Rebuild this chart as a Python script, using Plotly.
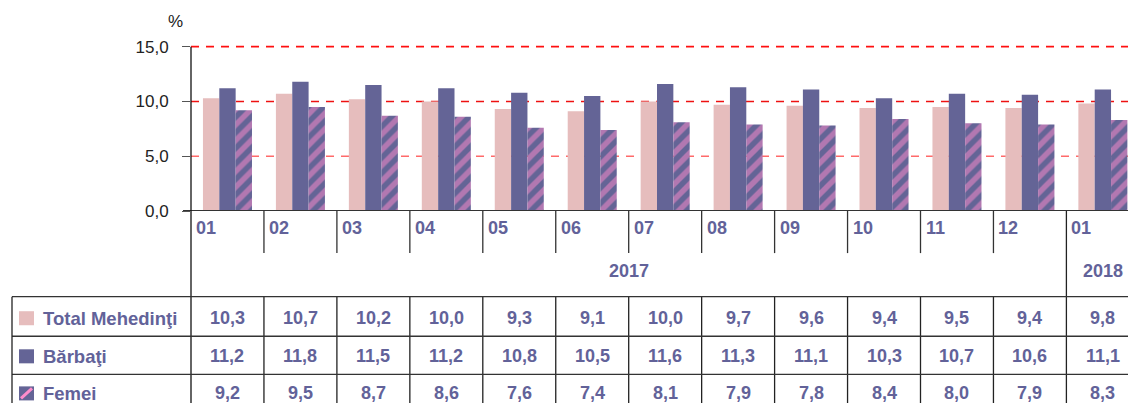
import plotly.graph_objects as go

months = ["01", "02", "03", "04", "05", "06", "07", "08", "09", "10", "11", "12", "01"]
years = ["2017", "2018"]
year_spans = [(0, 11), (12, 12)]
series_names = ["Total Mehedinţi", "Bărbaţi", "Femei"]
total = [10.3, 10.7, 10.2, 10.0, 9.3, 9.1, 10.0, 9.7, 9.6, 9.4, 9.5, 9.4, 9.8]
barbati = [11.2, 11.8, 11.5, 11.2, 10.8, 10.5, 11.6, 11.3, 11.1, 10.3, 10.7, 10.6, 11.1]
femei = [9.2, 9.5, 8.7, 8.6, 7.6, 7.4, 8.1, 7.9, 7.8, 8.4, 8.0, 7.9, 8.3]
y_ticks = [0, 5, 10, 15]

SW, SH = 1128, 403
W, H = SW, SH
L, B = 191, 211              # plot-area left / bottom in pixels
Y_TOP_PIX = 47               # pixel of value 15
Y_MAX = 15.15
T = B - (B - Y_TOP_PIX) * Y_MAX / 15
CAT_W = 72.95
x_max = -0.5 + (SW - L) / CAT_W

PINK = "#e6bdbd"
BLUE = "#646496"
HATCH = "#ff8ccb"
TXT = "#626299"
FONT = "Liberation Sans, Arial, sans-serif"


def px(p):
    return (p - L) / (SW - L)


def py(p):
    return (B - p) / (B - T)


def fmt(v):
    return f"{v:.1f}".replace(".", ",")


xs = list(range(len(months)))
fig = go.Figure()
fig.add_trace(go.Bar(x=xs, y=total, name=series_names[0], marker=dict(color=PINK, line=dict(width=0))))
fig.add_trace(go.Bar(x=xs, y=barbati, name=series_names[1], marker=dict(color=BLUE, line=dict(width=0))))
fig.add_trace(go.Bar(x=xs, y=femei, name=series_names[2],
                     marker=dict(color=BLUE, line=dict(width=0),
                                 pattern=dict(shape="/", fgcolor=HATCH, bgcolor=BLUE,
                                              fillmode="overlay", size=11, solidity=0.5))))

shapes = []
for v, c in [(5, "#ff6a6a"), (10, "#ee1111"), (15, "#ff1010")]:
    shapes.append(dict(type="line", xref="paper", yref="y", x0=0, x1=1, y0=v, y1=v,
                       line=dict(color=c, width=1.6, dash="8px,7px"), layer="below"))
shapes.append(dict(type="line", xref="paper", yref="y", x0=px(183), x1=1, y0=0, y1=0,
                   line=dict(color="#333333", width=2)))
shapes.append(dict(type="line", xref="paper", yref="paper", x0=0, x1=0, y0=py(Y_TOP_PIX), y1=py(SH + 5),
                   line=dict(color="#111111", width=1.3)))
n = len(months)
for i in range(n - 1):
    boundary_year = any(i == e for (_, e) in year_spans[:-1])
    if boundary_year:
        shapes.append(dict(type="line", xref="x", yref="paper", x0=i + 0.5, x1=i + 0.5,
                           y0=py(B), y1=py(SH + 5), line=dict(color="#222222", width=1.3)))
    else:
        shapes.append(dict(type="line", xref="x", yref="paper", x0=i + 0.5, x1=i + 0.5,
                           y0=py(B), y1=py(253), line=dict(color="#333333", width=1.3)))
        shapes.append(dict(type="line", xref="x", yref="paper", x0=i + 0.5, x1=i + 0.5,
                           y0=py(296), y1=py(SH + 5), line=dict(color="#222222", width=1.3)))
row_lines = [296.5, 336, 374]
for yl in row_lines:
    shapes.append(dict(type="line", xref="paper", yref="paper", x0=px(12), x1=1, y0=py(yl), y1=py(yl),
                       line=dict(color="#333333", width=1.3)))
shapes.append(dict(type="line", xref="paper", yref="paper", x0=px(12), x1=px(12), y0=py(296.5), y1=py(SH + 5),
                   line=dict(color="#222222", width=1.3)))
key_rows = [318, 356, 393]
for k, yc in enumerate(key_rows):
    col = PINK if k == 0 else BLUE
    shapes.append(dict(type="rect", xref="paper", yref="paper", x0=px(19), x1=px(34),
                       y0=py(yc + 7), y1=py(yc - 7), fillcolor=col, line=dict(width=0)))
    if k == 2:
        shapes.append(dict(type="line", xref="paper", yref="paper", x0=px(21), x1=px(32),
                           y0=py(yc + 5), y1=py(yc - 5), line=dict(color=HATCH, width=3)))

ann = []
ann.append(dict(text="%", xref="paper", yref="paper", x=px(175), y=py(22), xanchor="center", yanchor="middle",
                showarrow=False, font=dict(family=FONT, size=17, color="#222222")))
for i, m in enumerate(months):
    ann.append(dict(text=f"<b>{m}</b>", xref="x", yref="paper", x=i - 0.5, xshift=3, xanchor="left",
                    y=py(228), yanchor="middle", showarrow=False, font=dict(family=FONT, size=18, color=TXT)))
for yname, (s, e) in zip(years, year_spans):
    ann.append(dict(text=f"<b>{yname}</b>", xref="x", yref="paper", x=(s + e) / 2, y=py(271),
                    xanchor="center", yanchor="middle", showarrow=False,
                    font=dict(family=FONT, size=18, color=TXT)))
for k, (name, vals) in enumerate(zip(series_names, [total, barbati, femei])):
    ann.append(dict(text=f"<b>{name}</b>", xref="paper", yref="paper", x=px(41), xanchor="left",
                    y=py(key_rows[k]), yanchor="middle", showarrow=False,
                    font=dict(family=FONT, size=18.5, color=TXT)))
    for i, v in enumerate(vals):
        ann.append(dict(text=f"<b>{fmt(v)}</b>", xref="x", yref="paper", x=i, y=py(key_rows[k]),
                        xanchor="center", yanchor="middle", showarrow=False,
                        font=dict(family=FONT, size=18, color=TXT)))

fig.update_layout(
    width=W, height=H,
    margin=dict(l=L, r=0, t=T, b=SH - B, pad=0),
    plot_bgcolor="white", paper_bgcolor="white",
    barmode="group", bargap=0.328, bargroupgap=0,
    showlegend=False,
    xaxis=dict(range=[-0.5, x_max], showticklabels=False, showgrid=False, zeroline=False,
               showline=False, ticks=""),
    yaxis=dict(range=[0, Y_MAX], tickvals=y_ticks, ticktext=[fmt(v) for v in y_ticks],
               showgrid=False, zeroline=False, showline=False,
               ticks="outside", ticklen=8, tickcolor="#555555", tickwidth=1.3,
               ticklabelstandoff=10,
               tickfont=dict(family=FONT, size=17, color="#222222")),
    shapes=shapes, annotations=ann,
)
fig.write_html("out.html", config={"displayModeBar": False},
               post_script="document.body.style.margin='0';document.body.style.overflow='hidden';")
